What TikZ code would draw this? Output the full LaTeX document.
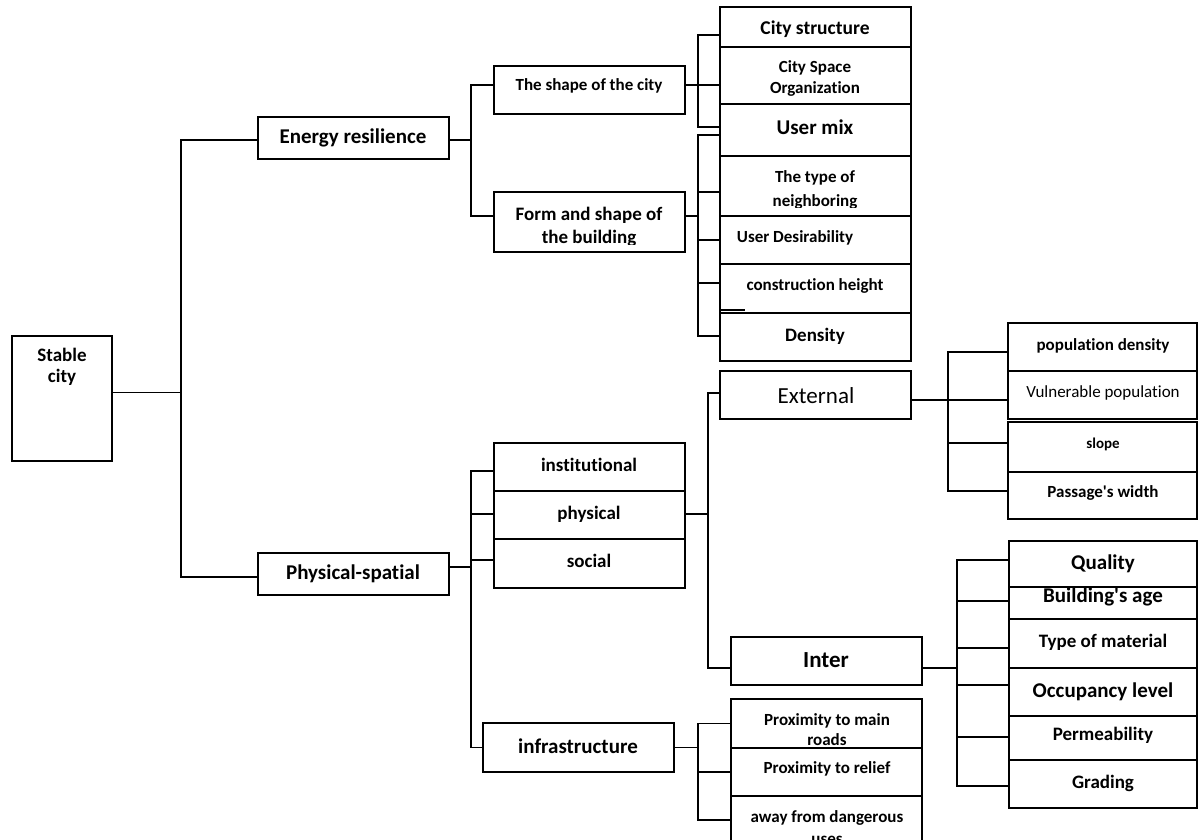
\documentclass[tikz,border=0pt]{standalone}
\usepackage{fontspec}
\setmainfont{Carlito}[Ligatures={NoCommon}]
\usetikzlibrary{fit,calc}
\begin{document}
\begin{tikzpicture}[x=1pt,y=-1pt,
  box/.style={draw, line width=1.6pt, inner sep=0pt},
  ln/.style={line width=1.6pt},
  tt/.style 2 args={font=\bfseries\fontsize{#1}{#2}\selectfont, inner sep=0pt, align=center, anchor=base},
  tr/.style 2 args={font=\fontsize{#1}{#2}\selectfont, inner sep=0pt, align=center, anchor=base}]
\useasboundingbox (0,0) rectangle (1199,840);
\clip (0,0) rectangle (1199,840);

% ---------- boxes ----------
\node[box, fit={(12,336) (112,461)}] (stable) {};
\node[box, fit={(258,117) (449,159)}] (energy) {};
\node[box, fit={(258,553) (449,595)}] (physp) {};
\node[box, fit={(494,66) (685,114)}] (shapec) {};
\node[box, fit={(494,192) (685,252)}] (formb) {};
\node[box, fit={(720,7) (911,47)}] (cstruct) {};
\node[box, fit={(720,47) (911,104)}] (cspace) {};
\node[box, fit={(720,104) (911,156)}] (usermix) {};
\node[box, fit={(720,156) (911,216)}] (typen) {};
\node[box, fit={(720,216) (911,264)}] (userdes) {};
\node[box, fit={(720,264) (911,313)}] (consth) {};
\node[box, fit={(720,313) (911,361)}] (dens) {};
\node[box, fit={(720,371) (911,419)}] (external) {};
\node[box, fit={(1008,323) (1197,371)}] (popd) {};
\node[box, fit={(1008,371) (1197,419)}] (vuln) {};
\node[box, fit={(1008,422) (1197,472)}] (slope) {};
\node[box, fit={(1008,472) (1197,519)}] (passw) {};
\node[box, fit={(494,443) (685,491)}] (inst) {};
\node[box, fit={(494,491) (685,539)}] (phys) {};
\node[box, fit={(494,539) (685,588)}] (soc) {};
\node[box, fit={(1009,541) (1197,587)}] (quality) {};
\node[box, fit={(1009,587) (1197,619)}] (bage) {};
\node[box, fit={(1009,619) (1197,668)}] (tmat) {};
\node[box, fit={(1009,668) (1197,716)}] (occ) {};
\node[box, fit={(1009,716) (1197,760)}] (perm) {};
\node[box, fit={(1009,760) (1197,808)}] (grad) {};
\node[box, fit={(731,637) (922,685)}] (inter) {};
\node[box, fit={(483,723) (674,772)}] (infra) {};
\node[box, fit={(731,699) (922,748)}] (prox1) {};
\node[box, fit={(731,748) (922,796)}] (prox2) {};
\node[box, fit={(731,796) (922,850)}] (prox3) {};

% ---------- connectors ----------
\draw[ln] ([yshift=6pt]stable.east) -- ++(68,0) |- ([yshift=-2pt]energy.west);
\draw[ln] ([yshift=6pt]stable.east) -- ++(68,0) |- ([yshift=-3pt]physp.west);

\draw[ln] ([yshift=-2pt]energy.east) -- ++(21,0) |- ([yshift=5pt]shapec.west);
\draw[ln] ([yshift=-2pt]energy.east) -- ++(21,0) |- ([yshift=6pt]formb.west);

\draw[ln] ([yshift=5pt]shapec.east) -- ++(12,0) |- ([yshift=-8pt]cstruct.west);
\draw[ln] ([yshift=5pt]shapec.east) -- ++(12,0) |- ([yshift=-9.5pt]cspace.west);
\draw[ln] ([yshift=5pt]shapec.east) -- ++(12,0) |- ([yshift=3pt]usermix.west);

\draw[ln] ([yshift=6pt]formb.east) -- ++(12,0) |- ([yshift=-5pt]usermix.west);
\draw[ln] ([yshift=6pt]formb.east) -- ++(12,0) |- ([yshift=-6pt]typen.west);
\draw[ln] ([yshift=6pt]formb.east) -- ++(12,0) |- (userdes.west);
\draw[ln] ([yshift=6pt]formb.east) -- ++(12,0) |- ([yshift=5.5pt]consth.west);
\draw[ln] ([yshift=6pt]formb.east) -- ++(12,0) |- ([yshift=1pt]dens.west);
\draw[ln] ([shift={(2,-4)}]consth.south west) -- ++(24,0);

\draw[ln] ([yshift=7pt]physp.east) -- ++(21,0) |- ([yshift=-4pt]inst.west);
\draw[ln] ([yshift=7pt]physp.east) -- ++(21,0) |- ([yshift=1pt]phys.west);
\draw[ln] ([yshift=7pt]physp.east) -- ++(21,0) |- ([yshift=3.5pt]soc.west);
\draw[ln] ([yshift=7pt]physp.east) -- ++(21,0) |- (infra.west);

\draw[ln] ([yshift=1pt]phys.east) -- ++(22,0) |- ([yshift=2pt]external.west);
\draw[ln] ([yshift=1pt]phys.east) -- ++(22,0) |- ([yshift=-7pt]inter.west);

\draw[ln] ([yshift=-5pt]external.east) -- ++(36,0) |- ([yshift=-5pt]popd.west);
\draw[ln] ([yshift=-5pt]external.east) -- ++(36,0) |- ([yshift=-5pt]vuln.west);
\draw[ln] ([yshift=-5pt]external.east) -- ++(36,0) |- ([yshift=4pt]slope.west);
\draw[ln] ([yshift=-5pt]external.east) -- ++(36,0) |- ([yshift=4.5pt]passw.west);

\draw[ln] ([yshift=-7pt]inter.east) -- ++(34,0) |- ([yshift=4pt]quality.west);
\draw[ln] ([yshift=-7pt]inter.east) -- ++(34,0) |- ([yshift=2pt]bage.west);
\draw[ln] ([yshift=-7pt]inter.east) -- ++(34,0) |- ([yshift=-4.5pt]tmat.west);
\draw[ln] ([yshift=-7pt]inter.east) -- ++(34,0) |- ([yshift=7pt]occ.west);
\draw[ln] ([yshift=-7pt]inter.east) -- ++(34,0) |- ([yshift=1pt]perm.west);
\draw[ln] ([yshift=-7pt]inter.east) -- ++(34,0) |- ([yshift=-2pt]grad.west);

\draw[ln] (infra.east) -- ++(23,0) |- (prox1.west);
\draw[ln] (infra.east) -- ++(23,0) |- (prox2.west);
\draw[ln] (infra.east) -- ++(23,0) |- ([yshift=3pt]prox3.west);

% ---------- texts (multi-line: position = last baseline) ----------
\node[tt={19}{21}] (t-stable) at (62,382) {Stable\\city};
\node[tt={21}{21}] (t-energy) at (353,143) {Energy resilience};
\node[tt={21}{21}] (t-physp) at (353,579) {Physical-spatial};
\node[tt={17}{17}] (t-shapec) at (589,91) {The shape of the city};
\begin{scope}
\clip (formb.north west) rectangle ([yshift=8pt]formb.south east);
\node[tt={19}{23}] (t-formb) at (589,243) {Form and shape of\\the building};
\end{scope}
\node[tt={19.5}{20}] (t-cstruct) at (815,35) {City structure};
\begin{scope}
\clip (cspace.north west) rectangle ([yshift=8.5pt]cspace.south east);
\node[tt={17}{21}] (t-cspace) at (815,94) {City Space\\Organization};
\end{scope}
\node[tt={21}{21}] (t-usermix) at (815,135) {User mix};
\begin{scope}
\clip (typen.north west) rectangle ([yshift=9pt]typen.south east);
\node[tt={17}{24}] (t-typen) at (815,206) {The type of\\neighboring};
\end{scope}
\node[tt={17}{17}] (t-userdes) at (795,242) {User Desirability};
\node[tt={17}{17}] (t-consth) at (815,290) {construction height};
\node[tt={19}{19}] (t-dens) at (815,341) {Density};
\node[tr={23}{23}] (t-external) at (816,403) {External};
\node[tt={17}{17}] (t-popd) at (1103,350) {population density};
\node[tr={17}{17}] (t-vuln) at (1103,397) {Vulnerable population};
\node[tt={15}{15}] (t-slope) at (1103,448) {slope};
\node[tt={17}{17}] (t-passw) at (1103,497) {Passage\textquotesingle s width};
\node[tt={19}{19}] (t-inst) at (589,471) {institutional};
\node[tt={19}{19}] (t-phys) at (589,519) {physical};
\node[tt={19}{19}] (t-soc) at (589,567) {social};
\node[tt={21}{21}] (t-quality) at (1103,569) {Quality};
\node[tt={21}{21}] (t-bage) at (1103,602) {Building\textquotesingle s age};
\node[tt={19}{19}] (t-tmat) at (1103,647) {Type of material};
\node[tt={21}{21}] (t-occ) at (1103,697) {Occupancy level};
\node[tt={19}{19}] (t-perm) at (1103,740) {Permeability};
\node[tt={19}{19}] (t-grad) at (1103,788) {Grading};
\node[tt={23}{23}] (t-inter) at (826,667) {Inter};
\node[tt={21}{21}] (t-infra) at (578,753) {infrastructure};
\begin{scope}
\clip (prox1.north west) rectangle (prox1.south east);
\node[tt={17}{20}] (t-prox1) at (827,745) {Proximity to main\\roads};
\end{scope}
\node[tt={17}{17}] (t-prox2) at (827,773) {Proximity to relief};
\node[tt={17}{22}] (t-prox3) at (827,844) {away from dangerous\\uses};
\end{tikzpicture}
\end{document}
